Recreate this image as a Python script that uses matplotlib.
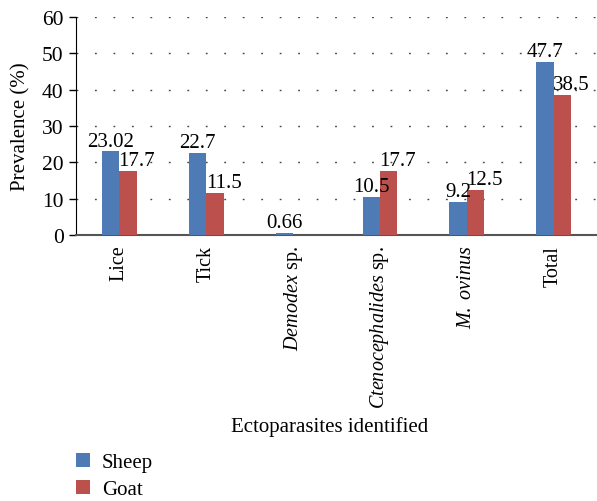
import matplotlib
matplotlib.use("Agg")
import matplotlib.pyplot as plt
import numpy as np

# ---------- data ----------
categories = ["Lice", "Tick", r"$\mathit{Demodex}$ sp.", r"$\mathit{Ctenocephalides}$ sp.",
              r"$\mathit{M.\ ovinus}$", "Total"]
sheep = [23.02, 22.7, 0.66, 10.5, 9.2, 47.7]
goat = [17.7, 11.5, None, 17.7, 12.5, 38.5]
sheep_labels = ["23.02", "22.7", "0.66", "10.5", "9.2", "47.7"]
goat_labels = ["17.7", "11.5", "", "17.7", "12.5", "38.5"]
yticks = [0, 10, 20, 30, 40, 50, 60]

plt.rcParams["font.family"] = ["Liberation Serif", "DejaVu Serif"]
plt.rcParams["mathtext.fontset"] = "custom"
plt.rcParams["mathtext.it"] = "Liberation Serif:italic"
plt.rcParams["mathtext.rm"] = "Liberation Serif"

blue = "#4E7AB5"
red = "#BC504D"

fig = plt.figure(figsize=(5.97, 5.02), dpi=100)
ax = fig.add_axes([76 / 597, 1 - 236 / 502, 1 - 76 / 597, (236 - 18) / 502])

x = np.arange(len(categories))
w = 0.2
goat_vals = [g if g is not None else 0 for g in goat]
b1 = ax.bar(x - w / 2, sheep, w, color=blue, label="Sheep", zorder=3)
b2 = ax.bar(x + w / 2, goat_vals, w, color=red, label="Goat", zorder=3)

for xi, v, t in zip(x, sheep, sheep_labels):
    ax.text(xi - w / 2, v + 0.2, t, ha="center", va="bottom", fontsize=15)
for xi, v, t in zip(x, goat_vals, goat_labels):
    if t:
        ax.text(xi + w / 2 + 0.1, v + 0.2, t, ha="center", va="bottom", fontsize=15)

ax.set_xlim(-0.5, 5.5)
ax.set_ylim(0, 60)
ax.set_yticks(yticks)
ax.tick_params(axis="y", labelsize=15.5, direction="out", length=5, width=1, pad=4)
ax.set_xticks(x)
ax.set_xticklabels(categories, rotation=90, fontsize=14.5, va="top")
ax.tick_params(axis="x", length=0, pad=7)

ax.yaxis.grid(True, linestyle=(0, (1.3, 12)), color="#444444", linewidth=1, zorder=0)
for s in ["top", "right"]:
    ax.spines[s].set_visible(False)
ax.spines["left"].set_color("black")
ax.spines["bottom"].set_color("#555555")
ax.spines["bottom"].set_linewidth(1.5)

ax.set_ylabel("Prevalence (%)", fontsize=15, labelpad=8)
fig.text(330 / 597, 1 - 427 / 502, "Ectoparasites identified", ha="center", va="center", fontsize=15)

fig.legend(handles=[b1, b2], labels=["Sheep", "Goat"], loc="upper left",
           bbox_to_anchor=(76 / 597, 1 - 454 / 502), frameon=False, fontsize=15,
           borderaxespad=0, borderpad=0,
           handlelength=0.65, handleheight=0.65, handletextpad=0.6, labelspacing=0.38)

fig.savefig("out.png", dpi=100)
